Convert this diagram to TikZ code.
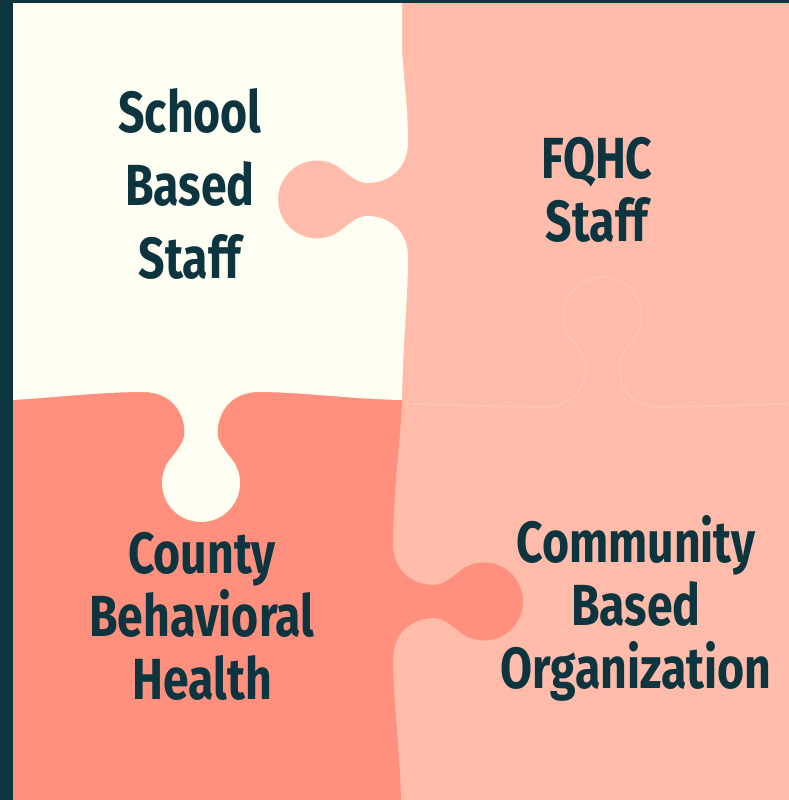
\documentclass[tikz,border=0pt]{standalone}
\usepackage{fontspec}
\newfontfamily\piecefont{Fira Sans}[FakeStretch=0.8]
\usepackage{tikz}
\definecolor{cream}{RGB}{255,254,242}
\definecolor{peach}{RGB}{255,188,170}
\definecolor{coral}{RGB}{255,144,126}
\definecolor{ink}{RGB}{13,53,64}
\definecolor{seam}{RGB}{255,200,186}
\tikzset{
  piecetext/.style ={text=ink, align=center, font=\piecefont\bfseries\fontsize{58}{63}\selectfont},
  schooltext/.style={piecetext, font=\piecefont\bfseries\fontsize{58}{73}\selectfont},
  seamline/.style  ={seam, line width=1.2pt},
}

\begin{document}
\begin{tikzpicture}[x=1pt,y=-1pt]
  \useasboundingbox (0,0) rectangle (789,800);

  % right column, both pieces
  \fill[peach] (0,0) rectangle (789,800);
  % faint seam between the two right pieces
  \draw[seamline] (402,404) -- (544.5,407)
    .. controls (572.5,407) and (586,387) .. (586,366)
    .. controls (586,357) and (577.7,347.2) .. (572.6,341.1)
    arc[start angle=140, end angle=400, radius=39]
    .. controls (627.3,347.2) and (619,357) .. (619,366)
    .. controls (619,387) and (630.5,407) .. (660.5,407) -- (789,404);

  % bottom left piece
  \fill[coral] (12,385) -- (402,385) -- (402,400)
    .. controls (400,450) and (393,490) .. (393,543.5)
    .. controls (393,571.5) and (413,585) .. (434,585)
    .. controls (443,585) and (452.8,576.7) .. (458.9,571.6)
    arc[start angle=-130, end angle=130, radius=39]
    .. controls (452.8,626.3) and (443,618) .. (434,618)
    .. controls (413,618) and (393,631.5) .. (393,659.5)
    .. controls (393,700) and (400,750) .. (401,800)
    -- (12,800) -- cycle;

  % top left piece
  \fill[cream] (12,0) -- (402,0) -- (402,50)
    .. controls (404,80) and (408,110) .. (408,141.5)
    .. controls (408,169.5) and (388,183) .. (367,183)
    .. controls (358,183) and (348.2,174.7) .. (342.1,169.6)
    arc[start angle=-50, end angle=-310, radius=39]
    .. controls (348.2,224.3) and (358,216) .. (367,216)
    .. controls (388,216) and (408,229.5) .. (408,257.5)
    .. controls (408,300) and (403,340) .. (402,400)
    .. controls (350,399) and (300,392) .. (259,392)
    .. controls (231,392) and (217.5,412) .. (217.5,433)
    .. controls (217.5,442) and (225.8,451.8) .. (230.9,457.9)
    arc[start angle=-40, end angle=220, radius=39]
    .. controls (176.2,451.8) and (184.5,442) .. (184.5,433)
    .. controls (184.5,412) and (171,392) .. (143,392)
    .. controls (100,392) and (50,398) .. (12,400) -- cycle;

  % dark frame
  \fill[ink] (0,0) rectangle (12.5,800);
  \fill[ink] (0,0) rectangle (789,3);

  % piece labels
  \node[schooltext] (school) at (190,184) {School\\Based\\Staff};
  \node[piecetext] (fqhc) at (597,190) {FQHC\\Staff};
  \node[piecetext] (county) at (202,616) {County\\Behavioral\\Health};
  \node[piecetext] (cbo) at (636,608) {Community\\Based\\Organization};
\end{tikzpicture}
\end{document}
